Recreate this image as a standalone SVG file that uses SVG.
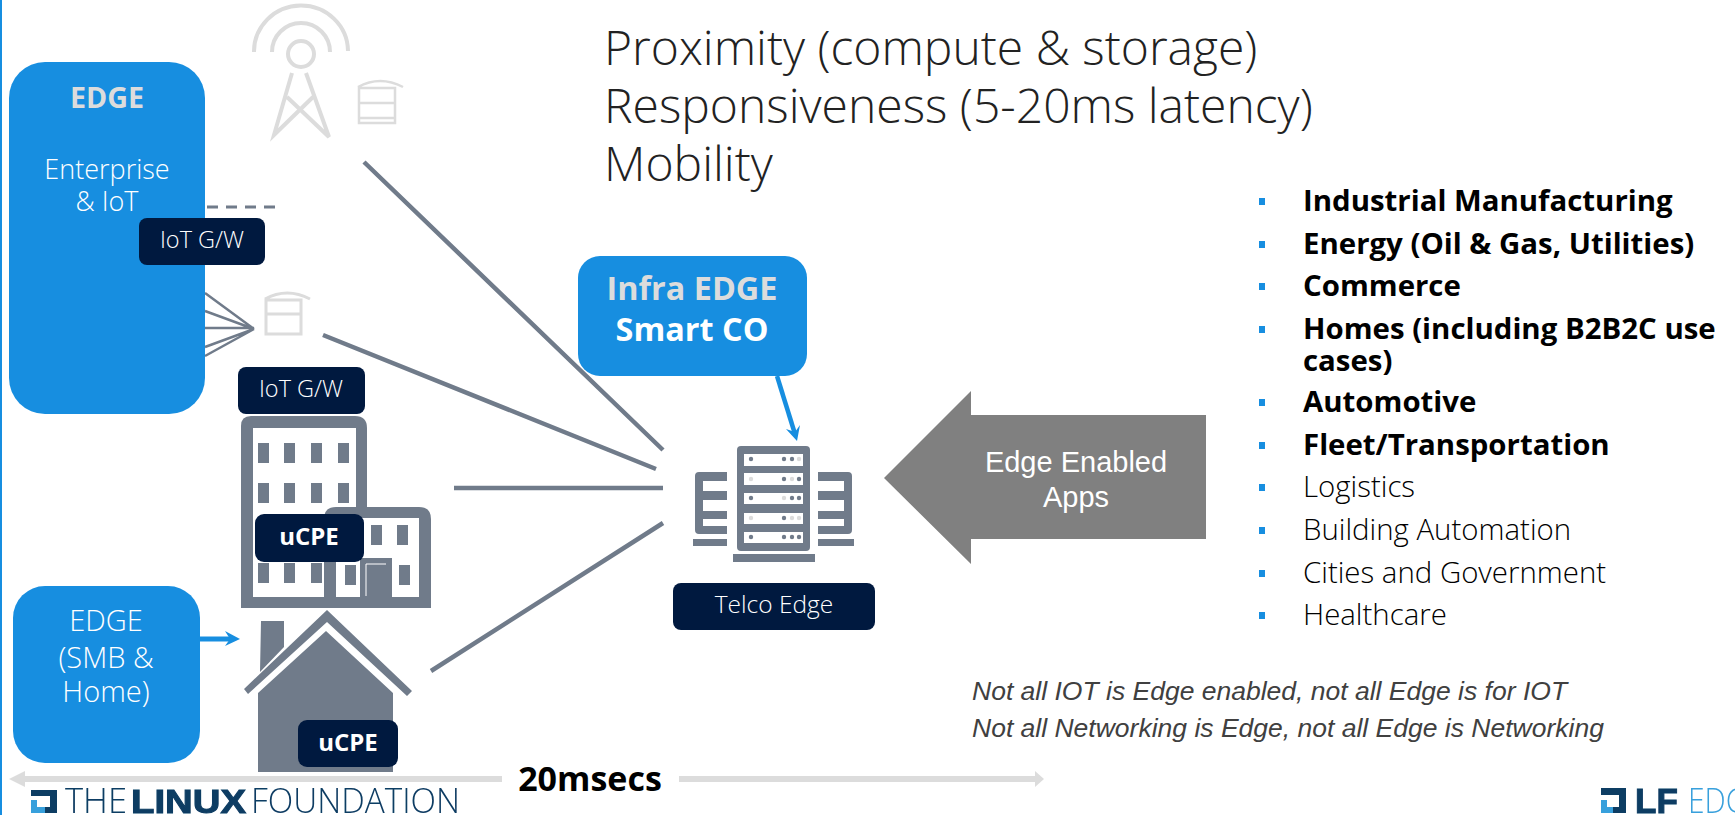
<svg xmlns="http://www.w3.org/2000/svg" width="1735" height="815" viewBox="0 0 1735 815">
<style>
text{font-family:"Open Sans","Noto Sans",sans-serif}
.blue{fill:#178ee0}
.navy{fill:#00193f}
.slate{fill:#707b8a}
.l{font-weight:300}
.b{font-weight:700}
.w{fill:#fff}
.m{text-anchor:middle}
.conn{stroke:#707b8a;stroke-width:4.5;fill:none}
.thin{stroke:#707b8a;stroke-width:2.5;fill:none}
.ghost{stroke:#dcdcdc;fill:none}
.li{font-size:29.4px;fill:#000}
.sq{fill:#178ee0}
.arr{fill:#dcdcdc}
.note{font-family:"Liberation Sans",Arial,sans-serif;font-style:italic;font-size:26.5px;fill:#404040}
.sans{font-family:"Liberation Sans",Arial,sans-serif}
</style>
<defs><filter id="soft" x="-5%" y="-5%" width="110%" height="110%"><feGaussianBlur stdDeviation="0.6"/></filter></defs>
<rect x="0" y="0" width="2" height="815" class="blue"/>
<g id="connectors">
<path class="conn" d="M364 162L663 450M323 335L656 469M454 488H663M431 671L663 523"/>
<path class="thin" d="M205 293L254 329M205 311L254 329M205 328H254M205 347L254 329M205 356L254 329"/>
<path class="thin" style="stroke-width:3" stroke-dasharray="11 8" d="M207 207H275"/>
<path d="M200 639H232" stroke="#178ee0" stroke-width="5" fill="none"/>
<path d="M225 631L240 639L225 646L230 639Z" fill="#178ee0"/>
<path d="M777 376L795 434" stroke="#178ee0" stroke-width="4.5" fill="none"/>
<path d="M786 429L797 441L800 425L795 432Z" fill="#178ee0"/>
</g>
<g id="tower">
<g class="ghost" stroke-width="4">
<path d="M254 52A47 46 0 0 1 348 51"/>
<path d="M272 52A29 29 0 0 1 330 52"/>
<circle cx="301" cy="54" r="13"/>
<path d="M292 73L274 135L313 97M306 73L329 137L287 97"/>
</g>
<path class="ghost" stroke-width="2.5" d="M359 123V88H395V123ZM359 103H395M359 118H395M358 87Q380 75 403 87"/>
</g>
<g id="gateway-icon">
<path class="ghost" stroke-width="3" d="M266 334V300H301V334ZM266 314H301M265 299Q287 287 310 299"/>
</g>
<g id="edge-enterprise">
<rect x="9" y="62" width="196" height="352" rx="36" class="blue"/>
<text x="107" y="108" class="b m" font-size="28.7" fill="#dcdcdc">EDGE</text>
<text x="107" y="179" class="l m w" font-size="27">Enterprise</text>
<text x="107" y="211" class="l m w" font-size="27">&amp; IoT</text>
</g>
<g id="iot-gw-1">
<rect x="139" y="218" width="126" height="47" rx="8" class="navy"/>
<text x="202" y="248" class="l m w" font-size="23.5">IoT G/W</text>
</g>
<g id="iot-gw-2">
<rect x="238" y="367" width="127" height="47" rx="8" class="navy"/>
<text x="301" y="397" class="l m w" font-size="23.5">IoT G/W</text>
</g>
<g id="buildings">
<path class="slate" fill-rule="evenodd" d="M251 416H355Q367 416 367 428V507H419Q431 507 431 519V608H241V426Q241 416 251 416ZM253 428V597H324V519Q324 507 336 507H356V428ZM336 518V597H360V558H392V597H419V518Z"/>
<g class="slate">
<rect x="258" y="443" width="11" height="20"/><rect x="284" y="443" width="11" height="20"/><rect x="311" y="443" width="11" height="20"/><rect x="338" y="443" width="11" height="20"/>
<rect x="258" y="483" width="11" height="20"/><rect x="284" y="483" width="11" height="20"/><rect x="311" y="483" width="11" height="20"/><rect x="338" y="483" width="11" height="20"/>
<rect x="258" y="563" width="11" height="20"/><rect x="284" y="563" width="11" height="20"/><rect x="311" y="563" width="11" height="20"/>
<rect x="371" y="525" width="11" height="20"/><rect x="397" y="525" width="11" height="20"/>
<rect x="345" y="565" width="11" height="20"/><rect x="399" y="565" width="11" height="20"/>
</g>
<path d="M366 596V564H386" stroke="#fff" fill="none"/>
</g>
<g id="ucpe-1">
<rect x="255" y="514" width="109" height="48" rx="9" class="navy"/>
<text x="309" y="545" class="b m w" font-size="24">uCPE</text>
</g>
<g id="house">
<path class="slate" d="M261 621H284V647L260 672ZM326 631L393 693V772H258V693Z"/>
<path class="slate" d="M327 610L412 691L407 696L327 622L248 694L244 689Z"/>
</g>
<g id="ucpe-2">
<rect x="298" y="720" width="100" height="47" rx="9" class="navy"/>
<text x="348" y="751" class="b m w" font-size="24">uCPE</text>
</g>
<g id="edge-smb">
<rect x="13" y="586" width="187" height="177" rx="32" class="blue"/>
<text x="106" y="631" class="l m w" font-size="29">EDGE</text>
<text x="106" y="668" class="l m w" font-size="29">(SMB &amp;</text>
<text x="106" y="702" class="l m w" font-size="29">Home)</text>
</g>
<g id="infra-edge">
<rect x="578" y="256" width="229" height="120" rx="22" class="blue"/>
<text x="692" y="300" class="b m" font-size="32.4" fill="#dcdcdc">Infra EDGE</text>
<text x="692" y="341" class="b m w" font-size="32.4">Smart CO</text>
</g>
<g id="server">
<rect x="737" y="446" width="73" height="105" rx="4" class="slate"/>
<g fill="#fff"><rect x="744" y="454" width="59" height="12"/><rect x="744" y="473" width="59" height="12"/><rect x="744" y="493" width="59" height="11"/><rect x="744" y="513" width="59" height="11"/><rect x="744" y="532" width="59" height="11"/></g>
<g class="slate">
<circle cx="751" cy="459" r="2.2"/><circle cx="784" cy="459" r="2.2"/><circle cx="792" cy="459" r="2.2"/>
<circle cx="784" cy="479" r="2.2"/><circle cx="799" cy="479" r="2.2"/>
<circle cx="751" cy="498" r="2.2"/><circle cx="792" cy="498" r="2.2"/><circle cx="799" cy="498" r="2.2"/>
<circle cx="784" cy="518" r="2.2"/>
<circle cx="751" cy="537" r="2.2"/><circle cx="784" cy="537" r="2.2"/><circle cx="792" cy="537" r="2.2"/><circle cx="799" cy="537" r="2.2"/>
</g>
<g fill="#dcdcdc"><circle cx="799" cy="459" r="2.2"/><circle cx="751" cy="479" r="2.2"/><circle cx="792" cy="479" r="2.2"/><circle cx="784" cy="498" r="2.2"/><circle cx="751" cy="518" r="2.2"/><circle cx="792" cy="518" r="2.2"/><circle cx="799" cy="518" r="2.2"/></g>
<path class="slate" d="M733 554H815V562H733ZM693 539H727V546H693ZM818 539H854V546H818Z"/>
<path class="slate" d="M727 472H699Q695 472 695 476V530Q695 534 699 534H727V526H703V519H727V511H703V500H727V491H703V481H727Z"/>
<path class="slate" d="M818 472H848Q852 472 852 476V530Q852 534 848 534H818V526H844V519H818V511H844V500H818V491H844V481H818Z"/>
</g>
<g id="telco-edge">
<rect x="673" y="583" width="202" height="47" rx="8" class="navy"/>
<text x="774" y="613" class="l m w" font-size="24.5">Telco Edge</text>
</g>
<g id="edge-apps">
<path d="M1206 415H971V391L884 478L971 564V539H1206Z" fill="#808080"/>
<text x="1076" y="472" font-size="29" class="m w sans">Edge Enabled</text>
<text x="1076" y="507" font-size="29" class="m w sans">Apps</text>
</g>
<g id="title" class="l" font-size="48" fill="#222">
<text x="604" y="65">Proximity (compute &amp; storage)</text>
<text x="604" y="123">Responsiveness (5-20ms latency)</text>
<text x="604" y="181">Mobility</text>
</g>
<g id="list">
<g class="sq">
<rect x="1259" y="198" width="6" height="7"/><rect x="1259" y="241" width="6" height="7"/><rect x="1259" y="283" width="6" height="7"/><rect x="1259" y="326" width="6" height="7"/><rect x="1259" y="399" width="6" height="7"/><rect x="1259" y="442" width="6" height="7"/><rect x="1259" y="484" width="6" height="7"/><rect x="1259" y="527" width="6" height="7"/><rect x="1259" y="570" width="6" height="7"/><rect x="1259" y="612" width="6" height="7"/>
</g>
<text x="1303" y="211" class="li b">Industrial Manufacturing</text>
<text x="1303" y="254" class="li b">Energy (Oil &amp; Gas, Utilities)</text>
<text x="1303" y="296" class="li b">Commerce</text>
<text x="1303" y="339" class="li b">Homes (including B2B2C use</text>
<text x="1303" y="371" class="li b">cases)</text>
<text x="1303" y="412" class="li b">Automotive</text>
<text x="1303" y="455" class="li b">Fleet/Transportation</text>
<text x="1303" y="497" class="li l">Logistics</text>
<text x="1303" y="540" class="li l">Building Automation</text>
<text x="1303" y="583" class="li l">Cities and Government</text>
<text x="1303" y="625" class="li l">Healthcare</text>
</g>
<g id="notes">
<text x="972" y="700" class="note">Not all IOT is Edge enabled, not all Edge is for IOT</text>
<text x="972" y="737" class="note">Not all Networking is Edge, not all Edge is Networking</text>
</g>
<g id="timeline">
<path class="arr" d="M9 779L25 771V776H502V782H25V787Z"/>
<path class="arr" d="M679 776H1035V771L1044 779L1035 787V782H679Z"/>
<text x="590" y="791" class="b m" font-size="34" fill="#000">20msecs</text>
</g>
<g id="logo-lf" filter="url(#soft)">
<path d="M31 790H57V813H38V807H50V796H31Z" fill="#0d3c63"/>
<path d="M31 800H37V807H45V813H31Z" fill="#39a0dc"/>
<text x="65" y="813" font-size="34" fill="#0d3c63" class="l" textLength="62" lengthAdjust="spacingAndGlyphs">THE</text>
<text x="131" y="813" font-size="33" fill="#0d3c63" class="sans b" stroke="#0d3c63" textLength="115" lengthAdjust="spacingAndGlyphs">LINUX</text>
<text x="251" y="813" font-size="34" fill="#0d3c63" class="l" textLength="209" lengthAdjust="spacingAndGlyphs">FOUNDATION</text>
</g>
<g id="logo-lf-edge" filter="url(#soft)">
<path d="M1601 788H1626V813H1607V807H1619V795H1601Z" fill="#0d3c63"/>
<path d="M1601 800H1607V807H1613V813H1601Z" fill="#39a0dc"/>
<text x="1635" y="813" font-size="35" class="b sans" stroke="#0d3c63" fill="#0d3c63">LF</text>
<text x="1688" y="813" font-size="35" fill="#39a0dc" class="l" textLength="76" lengthAdjust="spacingAndGlyphs">EDGE</text>
</g>
</svg>
